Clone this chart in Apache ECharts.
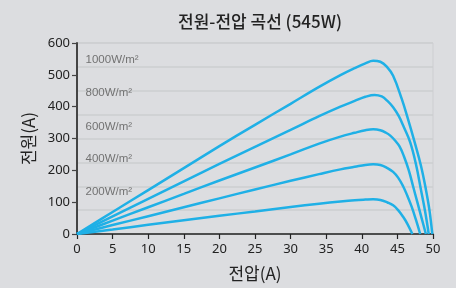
<!DOCTYPE html>
<html>
<head>
<meta charset="utf-8">
<script src="https://cdn.jsdelivr.net/npm/echarts@6/dist/echarts.min.js"></script>
<style>
  html, body { margin: 0; padding: 0; background: #dcdde0; }
  #chart { width: 456px; height: 288px; }
</style>
</head>
<body>
<div id="chart"></div>
<script>
// 곡선 데이터 [전압, 전원]
var curve1000 = [[0,0],[5,69],[10,138],[15,207],[20,276],[25,343],[30,409],[34,462],[37,499],[39,521],[40.5,536],[41.6,544],[42.6,541],[43.5,526],[44.4,497],[45.6,425],[46.5,360],[47.4,290],[48.3,215],[49,140],[49.5,75],[49.9,0]];
var curve800 = [[0,0],[5,55],[10,110],[15,165],[20,220],[25,274],[30,327],[34,370],[37,400],[39,418],[40.5,431],[41.8,437],[42.8,432],[43.6,418],[44.4,398],[45.2,370],[45.9,336],[46.8,288],[47.6,220],[48.3,140],[48.9,70],[49.4,0]];
var curve600 = [[0,0],[5,42],[10,84],[15,126],[20,168],[25,209],[30,250],[34,284],[37,306],[39,318],[40.5,326],[41.6,329],[42.6,326],[43.4,318],[44,309],[44.7,293],[45.3,275],[45.9,245],[46.6,200],[47.2,150],[47.8,100],[48.4,50],[49,0]];
var curve400 = [[0,0],[5,28],[10,56],[15,84],[20,112],[25,140],[30,167],[34,188],[37,203],[39,211],[40.5,217],[41.6,219],[42.6,217],[43.6,207],[44.4,195],[45.1,177],[45.8,150],[46.4,120],[47,86],[47.6,45],[48.2,0]];
var curve200 = [[0,0],[5,14],[10,29],[15,43],[20,57],[25,71],[30,85],[34,95],[37,102],[39,106],[40.5,108],[41.6,109],[42.6,107],[43.6,99],[44.4,90],[45.1,75],[45.8,54],[46.4,32],[47.1,0]];

var irrLabels = ['1000W/m²', '800W/m²', '600W/m²', '400W/m²', '200W/m²'];
var labelPos = [[1.2, 548], [1.2, 443], [1.2, 337], [1.2, 236], [1.2, 131]];

(function () {
  var myChart = echarts.init(document.getElementById('chart'));
  var lineColor = '#1fb0e6';
  var curves = [curve1000, curve800, curve600, curve400, curve200];

  var series = curves.map(function (c, i) {
    return {
      name: irrLabels[i],
      type: 'line',
      data: c,
      smooth: 0.4,
      showSymbol: false,
      lineStyle: { color: lineColor, width: 2.5 },
      z: 5
    };
  });

  var option = {
    backgroundColor: '#dcdde0',
    animation: false,
    title: {
      text: '전원-전압 곡선 (545W)',
      left: 255,
      textAlign: 'center',
      top: 8,
      textStyle: { fontFamily: 'Noto Sans CJK KR', fontSize: 17, fontWeight: 500, color: '#222' }
    },
    grid: {
      left: 77, right: 23, top: 43, bottom: 54,
      show: true,
      borderColor: '#cdced1',
      borderWidth: 1
    },
    xAxis: {
      type: 'value',
      min: 0, max: 50, interval: 5,
      name: '전압(A)',
      nameLocation: 'middle',
      nameGap: 31,
      nameTextStyle: { fontFamily: 'Noto Sans CJK KR', fontSize: 17, color: '#222' },
      axisLine: { lineStyle: { color: '#222', width: 1.5 } },
      axisTick: { show: true, length: 5, lineStyle: { color: '#222', width: 1.2 } },
      axisLabel: { fontFamily: 'Noto Sans', fontSize: 13, color: '#222', margin: 9 },
      splitLine: { show: false }
    },
    yAxis: [
      {
        type: 'value',
        min: 0, max: 600, interval: 100,
        name: '전원(A)',
        nameLocation: 'middle',
        nameGap: 37,
        nameRotate: 90,
        nameTextStyle: { fontFamily: 'Noto Sans CJK KR', fontSize: 17, color: '#222' },
        axisLine: { show: true, lineStyle: { color: '#444', width: 2 } },
        axisTick: { show: true, length: 5, lineStyle: { color: '#444', width: 1.2 } },
        axisLabel: { fontFamily: 'Noto Sans', fontSize: 13, color: '#222', margin: 7 },
        splitLine: { show: false }
      },
      {
        // 배경 격자선 (75 간격)
        type: 'value',
        min: 0, max: 600, interval: 75,
        position: 'left',
        axisLine: { show: false },
        axisTick: { show: false },
        axisLabel: { show: false },
        splitLine: { show: true, lineStyle: { color: '#cdced1', width: 1.5 } }
      }
    ],
    series: series
  };

  myChart.setOption(option);

  // 일사량 라벨
  var texts = irrLabels.map(function (t, i) {
    var p = myChart.convertToPixel({ xAxisIndex: 0, yAxisIndex: 0 }, labelPos[i]);
    return {
      type: 'text',
      x: p[0], y: p[1],
      style: {
        text: t,
        fill: '#727272',
        font: '11.5px "Liberation Sans"',
        textVerticalAlign: 'middle'
      },
      z: 10
    };
  });
  myChart.setOption({ graphic: texts });
})();
</script>
</body>
</html>
